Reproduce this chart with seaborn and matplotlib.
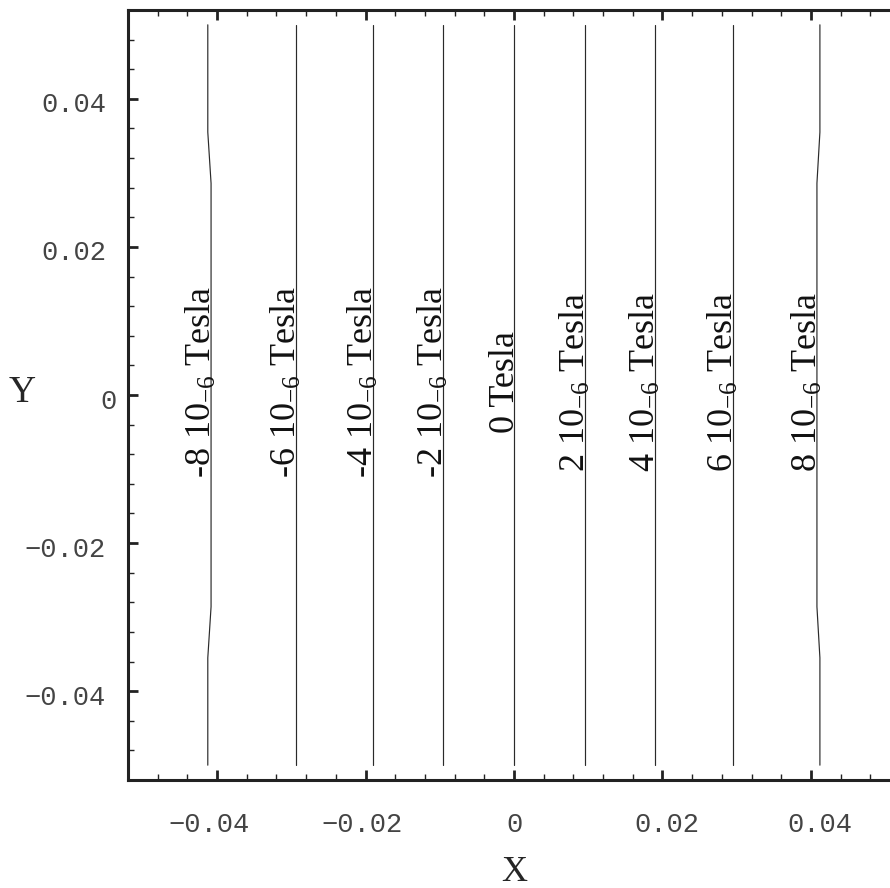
import numpy as np
import pandas as pd
import matplotlib
matplotlib.use("Agg")
import matplotlib.pyplot as plt
from matplotlib import transforms
from matplotlib.ticker import MultipleLocator
import seaborn as sns

# ---------------- data ----------------
LEVELS = [-8, -6, -4, -2, 0, 2, 4, 6, 8]
LABELS = ["-8 10$_{-6}$ Tesla", "-6 10$_{-6}$ Tesla", "-4 10$_{-6}$ Tesla",
          "-2 10$_{-6}$ Tesla", "0 Tesla", "2 10$_{-6}$ Tesla",
          "4 10$_{-6}$ Tesla", "6 10$_{-6}$ Tesla", "8 10$_{-6}$ Tesla"]
Y_NODES = [-0.05, -0.0355, -0.0286, 0.0286, 0.0355, 0.05]
X_LEVEL_M8 = [-0.04125, -0.04125, -0.04081, -0.04081, -0.04125, -0.04125]
X_LEVEL_M6 = [-0.02936] * 6
X_LEVEL_M4 = [-0.01899] * 6
X_LEVEL_M2 = [-0.00956] * 6
X_LEVEL_0 = [0.0] * 6
X_LEVEL_P2 = [0.00956] * 6
X_LEVEL_P4 = [0.01899] * 6
X_LEVEL_P6 = [0.02945] * 6
X_LEVEL_P8 = [0.04121, 0.04121, 0.04081, 0.04081, 0.04121, 0.04121]
X_BY_LEVEL = [X_LEVEL_M8, X_LEVEL_M6, X_LEVEL_M4, X_LEVEL_M2, X_LEVEL_0,
              X_LEVEL_P2, X_LEVEL_P4, X_LEVEL_P6, X_LEVEL_P8]
LABEL_Y = 0.0017

X_TICKS = [-0.04, -0.02, 0.0, 0.02, 0.04]
X_TICK_LABELS = ["\u22120.04", "\u22120.02", "0", "0.02", "0.04"]
X_TICK_LABEL_POS = [-0.04108, -0.02047, 0.0, 0.0206, 0.0412]
Y_TICKS = [-0.04, -0.02, 0.0, 0.02, 0.04]
Y_TICK_LABELS = ["\u22120.04", "\u22120.02", "0", "0.02", "0.04"]

rows = []
for lev, xs in zip(LEVELS, X_BY_LEVEL):
    for i, (xv, yv) in enumerate(zip(xs, Y_NODES)):
        rows.append({"level": lev, "order": i, "x": xv, "y": yv})
df = pd.DataFrame(rows)

# ---------------- style ----------------
sns.set_style("ticks")
plt.rcParams["font.family"] = ["Liberation Serif", "DejaVu Serif"]
plt.rcParams["mathtext.fontset"] = "custom"
plt.rcParams["mathtext.rm"] = "Liberation Serif"
plt.rcParams["mathtext.it"] = "Liberation Serif:italic"
plt.rcParams["mathtext.default"] = "regular"

fig = plt.figure(figsize=(8.9, 8.88), dpi=100)
ax = fig.add_axes([128 / 890, 108 / 888, 772 / 890, 770 / 888])

sns.lineplot(data=df, x="x", y="y", units="level", estimator=None, sort=False,
             color="#2a2a2a", linewidth=0.85, legend=False, ax=ax)

ax.set_xlim(-0.052, 0.052)
ax.set_ylim(-0.052, 0.052)
ax.set_xlabel("")
ax.set_ylabel("")

for s in ax.spines.values():
    s.set_visible(True)
    s.set_linewidth(2.2)
    s.set_color("#222222")

ax.set_xticks(X_TICKS)
ax.set_yticks(Y_TICKS)
ax.xaxis.set_minor_locator(MultipleLocator(0.004))
ax.yaxis.set_minor_locator(MultipleLocator(0.004))
ax.tick_params(which="both", direction="in", top=True, right=True,
               labelbottom=False, labelleft=False, color="#222222")
ax.tick_params(which="major", length=7, width=2)
ax.tick_params(which="minor", length=4, width=1)

# contour labels
for lev, xs, lab in zip(LEVELS, X_BY_LEVEL, LABELS):
    ax.text(xs[2], LABEL_Y, lab, rotation=90, rotation_mode="anchor",
            ha="center", va="baseline", fontsize=26, color="#111111")

# tick labels
mono = dict(family=["Liberation Mono", "DejaVu Sans Mono"], fontsize=19.5,
            color="#444444")
xtr = transforms.blended_transform_factory(ax.transData, ax.transAxes) + \
    transforms.ScaledTranslation(0, -45 / 100, fig.dpi_scale_trans)
for pos, lab in zip(X_TICK_LABEL_POS, X_TICK_LABELS):
    ax.text(pos, 0, lab, transform=xtr, ha="center", va="center", **mono)

for val, lab in zip(Y_TICKS, Y_TICK_LABELS):
    dx = -22 / 100 if lab != "0" else -11 / 100
    ytr = transforms.blended_transform_factory(ax.transAxes, ax.transData) + \
        transforms.ScaledTranslation(dx, -6.5 / 100, fig.dpi_scale_trans)
    ax.text(0, val, lab, transform=ytr, ha="right", va="center", **mono)

fig.text(514 / 890, 1 - 868 / 888, "X", fontsize=26, ha="center",
         va="center_baseline")
fig.text(22 / 890, 1 - 389 / 888, "Y", fontsize=27, ha="center",
         va="center_baseline")

fig.savefig("out.png", dpi=100)
